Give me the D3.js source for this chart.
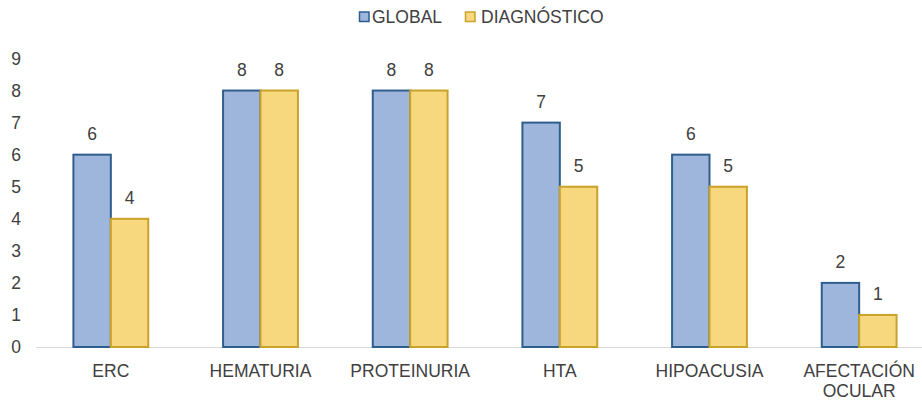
<!DOCTYPE html>
<html>
<head>
<meta charset="utf-8">
<script src="https://cdn.jsdelivr.net/npm/d3@7"></script>
<style>
  html, body { margin: 0; padding: 0; background: #fff; }
  svg { display: block; font-family: "Liberation Sans", Arial, sans-serif; }
</style>
</head>
<body>
<svg id="chart" width="922" height="401"></svg>
<script>
// Categories and series values
const categories = ["ERC", "HEMATURIA", "PROTEINURIA", "HTA", "HIPOACUSIA", "AFECTACIÓN OCULAR"];
const seriesNames = ["GLOBAL", "DIAGNÓSTICO"];
const globalValues = [6, 8, 8, 7, 6, 2];
const diagnosticoValues = [4, 8, 8, 5, 5, 1];
const yTicks = [0, 1, 2, 3, 4, 5, 6, 7, 8, 9];

const series = [
  { name: seriesNames[0], values: globalValues, fill: "#9EB6DB", stroke: "#2E5E8E" },
  { name: seriesNames[1], values: diagnosticoValues, fill: "#F8D87E", stroke: "#C9A22A" }
];

const svg = d3.select("#chart");
const W = 922;
const fontSize = "17.5px";

const x = d3.scaleBand().domain(categories).range([36, 934]).padding(0);
const y = d3.scaleLinear().domain([0, 9]).range([347, 58.5]);

const barW = x.bandwidth() * 0.25;
const textColor = "#404040";

// Y axis labels (no axis line)
const yAxis = d3.axisLeft(y).tickValues(yTicks).tickSize(0).tickPadding(0);
const yg = svg.append("g").attr("transform", "translate(21,0)").call(yAxis);
yg.select(".domain").remove();
yg.selectAll("text")
  .attr("fill", textColor)
  .style("font-size", fontSize)
  .style("font-family", "'Liberation Sans', Arial, sans-serif");

// Baseline
svg.append("line")
  .attr("x1", 36).attr("x2", W)
  .attr("y1", y(0) + 0.5).attr("y2", y(0) + 0.5)
  .attr("stroke", "#D9D9D9").attr("stroke-width", 1.2);

// Bars
series.forEach((s, si) => {
  const g = svg.append("g");
  g.selectAll("rect")
    .data(categories)
    .join("rect")
    .attr("x", (c) => x(c) + x.bandwidth() / 2 - barW + si * barW)
    .attr("y", (c, i) => y(s.values[i]))
    .attr("width", barW)
    .attr("height", (c, i) => y(0) - y(s.values[i]))
    .attr("fill", s.fill)
    .attr("stroke", s.stroke)
    .attr("stroke-width", 2);

  g.selectAll("text")
    .data(categories)
    .join("text")
    .attr("x", (c) => x(c) + x.bandwidth() / 2 - barW / 2 + si * barW)
    .attr("y", (c, i) => y(s.values[i]) - 15)
    .attr("text-anchor", "middle")
    .attr("fill", textColor)
    .style("font-size", fontSize)
    .text((c, i) => s.values[i]);
});

// Category labels (wrap two-word label onto two lines)
const xl = svg.append("g");
categories.forEach((c) => {
  const cx = x(c) + x.bandwidth() / 2;
  const t = xl.append("text")
    .attr("x", cx)
    .attr("y", 377)
    .attr("text-anchor", "middle")
    .attr("fill", textColor)
    .style("font-size", fontSize);
  const words = c === "AFECTACIÓN OCULAR" ? c.split(" ") : [c];
  words.forEach((w, i) => {
    t.append("tspan").attr("x", cx).attr("dy", i === 0 ? 0 : 20).text(w);
  });
});

// Legend
const legend = svg.append("g");
const legendItems = [
  { s: series[0], x: 359.5, tx: 372 },
  { s: series[1], x: 465.5, tx: 481 }
];
legendItems.forEach((d) => {
  legend.append("rect")
    .attr("x", d.x).attr("y", 12)
    .attr("width", 9.5).attr("height", 9.5)
    .attr("fill", d.s.fill)
    .attr("stroke", d.s.stroke)
    .attr("stroke-width", 1.5);
  legend.append("text")
    .attr("x", d.tx).attr("y", 23)
    .attr("fill", textColor)
    .style("font-size", fontSize)
    .text(d.s.name);
});
</script>
</body>
</html>
